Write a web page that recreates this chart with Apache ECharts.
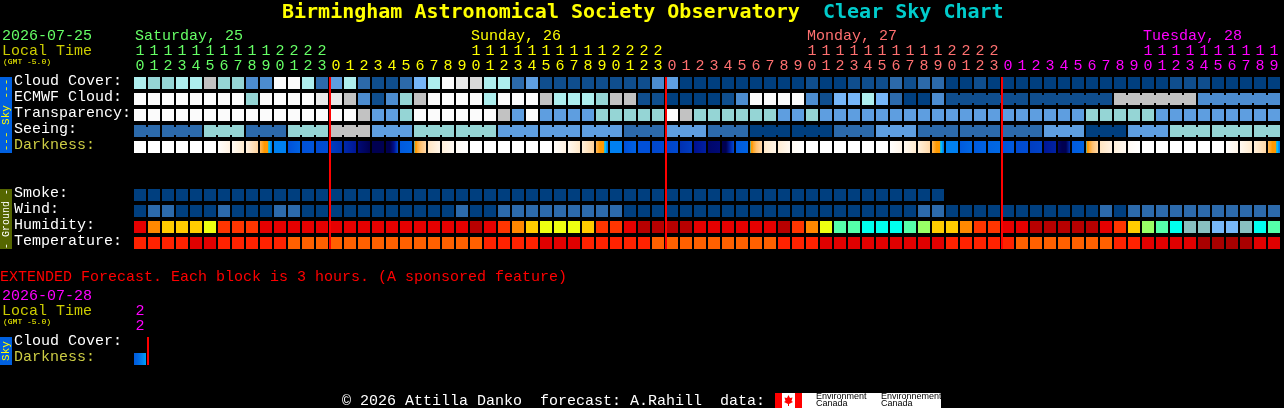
<!DOCTYPE html>
<html><head><meta charset="utf-8">
<style>html,body{margin:0;padding:0;background:#000;overflow:hidden}#c{width:1284px;height:408px}</style>
<script src="https://cdn.jsdelivr.net/npm/echarts@6/dist/echarts.min.js"></script>
</head><body><div id="c"></div>
<script>
const hourTicks=[10,11,12,13,14,15,16,17,18,19,20,21,22,23,
0,1,2,3,4,5,6,7,8,9,10,11,12,13,14,15,16,17,18,19,20,21,22,23,
0,1,2,3,4,5,6,7,8,9,10,11,12,13,14,15,16,17,18,19,20,21,22,23,
0,1,2,3,4,5,6,7,8,9,10,11,12,13,14,15,16,17,18,19];
const dayEndCols=[13,37,61];
const rowNames=['Cloud Cover:','ECMWF Cloud:','Transparency:','Seeing:','Darkness:','','','Smoke:','Wind:','Humidity:','Temperature:'];
const cloudCover=[7,6,6,7,7,8,6,6,3,3,10,10,7,2,
4,7,2,1,1,2,5,
7,10,9,8.5,7,7,2,4,
1,1,1,1,1,1,1,1,3,
4,
0,0,0,0,0,0,0,0,0,1,0,0,
1,1,1,2,1,2,2,
0,0,1,0,
0,0,0,0,0,0,0,0,0,0,0,0,
1,1,1,
0,0,0,0,0];
const ecmwfCloud=[10,10,10,10,10,10,10,10,6,10,10,10,10,9,9,8,3,1,3,6,8,
10,10,10,10,7,10,10,10,8,7,7,7,6,8,8,1,1,
0,0,0,0,1,3,10,10,10,10,3,1,5,5,7,5,2,0,0,3,
1,1,1,1,1,1,1,1,1,1,1,1,
8,8,8,8,8,8,
3,3,3,3,3,3];
const ecmwfRuns=[1,1,1,1,1,1,1,1,1,1,1,1,1,1,1,1,1,1,1,1,1,1,1,1,1,1,1,1,1,1,1,1,1,1,1,1,1,1,1,1,1,1,1,1,1,1,1,1,1,1,1,1,1,1,1,1,1,1,6,6,6,6];
const transparency=[10,10,10,10,10,10,10,10,10,10,10,10,10,10,10,10,8,4,4,6,10,
10,10,10,10,10,8,4,10,4,4,4,4,6,6,6,6,6,
10,8,6,6,6,6,6,6,4,4,6,
4,4,4,4,4,4,4,4,4,4,4,4,4,4,4,4,4,4,4,
6,6,6,6,6,
4,4,4,4,4,4,4,4,4];
const seeingByBlock=[2,2,6,2,6,8,4,6,6,4,4,4,2,4,2,0,0,2,4,2,2,2,4,0,4,6,6,6];
const seeingRuns=[2,3,3,3,3,3,3,3,3,3,3,3,3,3,3,3,3,3,3,3,3,3,3,3,3,3,3,2];
const dusk=[42,44,46,48,50,50,50,50,56,56,60,60];
const dawn=[56,50,50,46,44,42,40,38,36,34,32,30];
const darkness=[[0],[0],[0],[0],[0],[0],[1,12],[5,18],[12,32],dusk,
[60],[70,66],[70,69],[72,71],[76,80],[82,88],[94,100],[100],[100,100,90,72],[68,66],dawn,
[22,10],[14,5],[4,0],[0],[0],[0],[0],[0],[0],[2,12],[6,20],[14,32],dusk,
[60],[70,66],[70],[73,72],[74,72],[80,76],[90,85],[96,94],[100,100,85,72],[68,66],dawn,
[20,10],[16,6],[5,0],[0],[0],[0],[0],[0],[0],[1,10],[6,18],[14,30],dusk,
[60],[68,65],[68,66],[66,65],[70,68],[72,71],[76,74],[88,84],[96,100,100,82],[68,66],dawn,
[22,12],[14,6],[5,0],[0],[0],[0],[0],[0],[0],[1,10],[6,18],[14,30],dusk];
const smoke=[0,0,0,0,0,0,0,0,0,0,0,0,0,0,0,0,0,0,0,0,0,0,0,0,0,0,0,0,0,0,0,0,0,0,0,0,0,0,0,0,0,0,0,0,0,0,0,0,0,0,0,0,0,0,0,0,0,0];
const wind=[0,2,2,0,0,0,2,0,0,0,2,2,0,0,0,0,0,0,0,0,0,
0,0,2,0,0,2,2,2,2,2,2,2,2,2,
0,0,0,0,0,0,0,0,0,0,0,0,0,0,0,0,0,0,0,0,0,
2,2,0,0,0,0,0,0,0,0,0,0,0,2,0,2,2,2,2,2,2,2,2,2,2,2];
const humidity=[80,65,60,60,60,55,70,70,70,80,80,80,80,80,80,80,80,80,80,80,80,
80,80,80,90,80,70,65,60,55,55,55,60,70,70,80,90,90,90,90,
80,80,80,80,80,80,90,70,65,55,45,45,
40,40,40,45,50,60,60,65,70,70,80,80,90,90,90,90,90,
80,70,60,50,45,40,30,30,25,25,30,40,45];
const temperature=[26,26,26,26,29,29,26,26,26,26,26,23,23,23,23,23,23,23,23,23,23,
23,23,23,23,26,26,26,26,29,29,29,26,26,26,26,26,23,
23,23,23,23,23,23,23,23,26,26,26,29,29,29,
29,29,29,29,29,29,26,26,26,26,26,23,23,23,23,23,23,23,26,26,29,29,29,29,32,32,32,32,29,29];
const extHours=[22];
const extDarkness=[[68,65,60,58]];

const skyColor={0:'#003F7F',1:'#0F4E8E',2:'#2C6AAB',3:'#4C8CCF',4:'#5E9EE0',5:'#76B6F8',6:'#95D5D5',7:'#AEEEEE',8:'#C2C2C2',8.5:'#D8D8D8',9:'#E9E9E9',10:'#FBFBFB'};
const humColor={25:'#77B7F9',30:'#88C0C0',40:'#00FFEE',45:'#55FFAA',50:'#99FF66',55:'#EEFF11',60:'#FFCC00',65:'#FF8800',70:'#FF3500',80:'#E60000',90:'#B80000'};
const tempColor={23:'#FF6000',26:'#FF2200',29:'#E00000',32:'#A80000'};
const ramp=[[0,'#FFFFFF'],[10,'#FFF5E8'],[20,'#FFE8C8'],[30,'#FFD8A8'],[40,'#FFC070'],[50,'#FF9900'],[55,'#00CCFF'],[60,'#0080F0'],[70,'#0050D8'],[80,'#0030B0'],[90,'#001090'],[100,'#000050']];
function rampColor(v){
  for(let k=0;k<ramp.length-1;k++){
    if(v<=ramp[k+1][0]){
      const t=(v-ramp[k][0])/(ramp[k+1][0]-ramp[k][0]);
      return echarts.color.lerp(t,[ramp[k][1],ramp[k+1][1]]);
    }
  }
  return ramp[ramp.length-1][1];
}
function darkFill(samples){
  if(samples.length===1) return rampColor(samples[0]);
  return {type:'linear',x:0,y:0,x2:1,y2:0,colorStops:samples.map((s,k)=>({offset:k/(samples.length-1),color:rampColor(s)}))};
}
const FONT='"Liberation Mono"';
const TFONT='"DejaVu Sans Mono"';
function expand(runs,vals){const o=[];runs.forEach((n,k)=>{for(let j=0;j<n;j++)o.push(vals?vals[k]:(j<n-1?1:0));});return o;}
const seeing=expand(seeingRuns,seeingByBlock), seeingJoin=expand(seeingRuns), ecmwfJoin=expand(ecmwfRuns);

function cellData(){
  const d=[];
  const add=(r,arr,pal,join)=>arr.forEach((v,c)=>d.push({value:[c,r,join?join[c]:0],fill:pal[v]}));
  add(0,cloudCover,skyColor);
  add(1,ecmwfCloud,skyColor,ecmwfJoin);
  add(2,transparency,skyColor);
  add(3,seeing,skyColor,seeingJoin);
  darkness.forEach((s,c)=>d.push({value:[c,4,0],fill:darkFill(s)}));
  add(7,smoke,skyColor);
  add(8,wind,skyColor);
  add(9,humidity,humColor);
  add(10,temperature,tempColor);
  return d;
}
const allCells=cellData();
function renderCell(data){
  return function(params,api){
    const p=api.coord([api.value(0),api.value(1)]);
    const fill=data[params.dataIndex].fill;
    const kids=[{type:'rect',shape:{x:p[0]-6,y:p[1]-6,width:12,height:12},style:{fill:fill}}];
    if(api.value(2)) kids.push({type:'rect',shape:{x:p[0]+6,y:p[1]-4,width:2,height:8},style:{fill:fill}});
    return {type:'group',children:kids};
  };
}
function renderLine(params,api){
  const p=api.coord([api.value(0),0]);
  const b=api.size([1,1]);
  const cs=params.coordSys;
  return {type:'rect',shape:{x:p[0]+b[0]/2,y:cs.y+2,width:2,height:cs.height-4},style:{fill:'#FF0000'}};
}
const dayColors=['#66FF66','#FFFF00','#FF7070','#FF00FF'];
function colColor(i){return i<=dayEndCols[0]?dayColors[0]:i<=dayEndCols[1]?dayColors[1]:i<=dayEndCols[2]?dayColors[2]:dayColors[3];}
const units=hourTicks.map(h=>String(h%10));
const tens=hourTicks.map(h=>h>=10?String(Math.floor(h/10)):'');
const xBase={type:'category',position:'top',axisLine:{show:false},axisTick:{show:false},splitLine:{show:false}};
const lbl=(color,margin)=>({interval:0,fontFamily:FONT,fontSize:15,color:color,margin:margin});
const extUnits=extHours.map(h=>String(h%10)), extTens=extHours.map(h=>String(Math.floor(h/10)));

function T(x,y,text,fill,size,weight){return {type:'text',x:x,y:y,silent:true,style:{text:text,fill:fill,font:(weight||'normal')+' '+size+'px '+FONT,verticalAlign:'middle',textAlign:'left'}};}
function R(x,y,w,h,fill){return {type:'rect',silent:true,shape:{x:x,y:y,width:w,height:h},style:{fill:fill}};}
function V(x,y,text,fill,size){return {type:'text',x:x,y:y,rotation:Math.PI/2,silent:true,style:{text:text,fill:fill,font:size+'px '+FONT,verticalAlign:'middle',textAlign:'center'}};}
const Y='#CCCC00';
const graphics=[
 T(2,36,'2026-07-25','#66FF66',15),
 T(2,51,'Local Time',Y,15),
 T(3,62,'(GMT -5.0)','#FFFF00',8),
 T(135,36,'Saturday, 25',dayColors[0],15),
 T(471,36,'Sunday, 26',dayColors[1],15),
 T(807,36,'Monday, 27',dayColors[2],15),
 T(1143,36,'Tuesday, 28',dayColors[3],15),
 T(0,277,'EXTENDED Forecast. Each block is 3 hours. (A sponsored feature)','#FF0000',15),
 T(2,296,'2026-07-28','#FF00FF',15),
 T(2,311,'Local Time',Y,15),
 T(3,322,'(GMT -5.0)','#FFFF00',8),
 R(0,77,12,76,'#0060E0'),V(6,115,'--- Sky ---','#FFFF00',11),
 R(0,189,12,60,'#556600'),V(6,219,'- Ground -','#FFFFFF',10),
 R(0,337,12,28,'#0060E0'),V(6,351,'Sky','#FFFF00',11),
 T(342,401,'© 2026 Attilla Danko  forecast: A.Rahill  data:','#FFFFFF',15),
 R(775,393,27,15,'#FFFFFF'),R(775,393,7,15,'#FF0000'),R(795,393,7,15,'#FF0000'),
 {type:'polygon',silent:true,shape:{points:[[788.5,395],[790,398],[792.5,397.5],[791.5,401],[793,402],[789,404],[789,406],[788,406],[788,404],[784,402],[785.5,401],[784.5,397.5],[787,398]]},style:{fill:'#FF0000'}},
 R(802,393,139,15,'#FFFFFF'),
 {type:'text',x:816,y:397,silent:true,style:{text:'Environment',fill:'#000',font:'9px "Liberation Sans"',verticalAlign:'middle'}},
 {type:'text',x:816,y:404,silent:true,style:{text:'Canada',fill:'#000',font:'9px "Liberation Sans"',verticalAlign:'middle',}},
 {type:'text',x:881,y:397,silent:true,style:{text:'Environnement',fill:'#000',font:'9px "Liberation Sans"',verticalAlign:'middle'}},
 {type:'text',x:881,y:404,silent:true,style:{text:'Canada',fill:'#000',font:'9px "Liberation Sans"',verticalAlign:'middle'}}
];
const extCells=extDarkness.map((s,c)=>({value:[c,1,0],fill:darkFill(s)}));
const chart=echarts.init(document.getElementById('c'),null,{renderer:'canvas'});
const yLabel={interval:0,fontFamily:FONT,fontSize:15,align:'left',margin:119,verticalAlign:'bottom',lineHeight:4,color:(v)=>v==='Darkness:'?'#CCCC44':'#FFFFFF'};
chart.setOption({
 animation:false,
 backgroundColor:'#000000',
 title:[
  {text:'Birmingham Astronomical Society Observatory',left:282,top:3,padding:0,textStyle:{color:'#FFFF00',fontFamily:TFONT,fontSize:20,fontWeight:'bold'}},
  {text:'Clear Sky Chart',left:823,top:3,padding:0,textStyle:{color:'#00CCCC',fontFamily:TFONT,fontSize:20,fontWeight:'bold'}}
 ],
 grid:[{left:133,top:75,width:1148,height:176},{left:133,top:335,width:14,height:32}],
 xAxis:[
  Object.assign({},xBase,{gridIndex:0,data:units,axisLabel:lbl((v,i)=>colColor(i),1)}),
  Object.assign({},xBase,{gridIndex:0,offset:15,data:tens,axisLabel:lbl((v,i)=>colColor(i),1)}),
  Object.assign({},xBase,{gridIndex:1,data:extUnits,axisLabel:lbl('#FF00FF',1)}),
  Object.assign({},xBase,{gridIndex:1,offset:15,data:extTens,axisLabel:lbl('#FF00FF',1)})
 ],
 yAxis:[
  {type:'category',gridIndex:0,inverse:true,data:rowNames,axisLine:{show:false},axisTick:{show:false},splitLine:{show:false},axisLabel:yLabel},
  {type:'category',gridIndex:1,inverse:true,data:['Cloud Cover:','Darkness:'],axisLine:{show:false},axisTick:{show:false},splitLine:{show:false},axisLabel:yLabel}
 ],
 series:[
  {type:'custom',xAxisIndex:0,yAxisIndex:0,clip:false,encode:{x:0,y:1},data:allCells,renderItem:renderCell(allCells),z:2},
  {type:'custom',xAxisIndex:0,yAxisIndex:0,clip:false,encode:{x:0},data:dayEndCols.map(c=>[c]),renderItem:renderLine,z:3},
  {type:'custom',xAxisIndex:2,yAxisIndex:1,clip:false,encode:{x:0,y:1},data:extCells,renderItem:renderCell(extCells),z:2},
  {type:'custom',xAxisIndex:2,yAxisIndex:1,clip:false,encode:{x:0},data:[[0]],renderItem:renderLine,z:3}
 ],
 graphic:graphics
});
</script></body></html>
